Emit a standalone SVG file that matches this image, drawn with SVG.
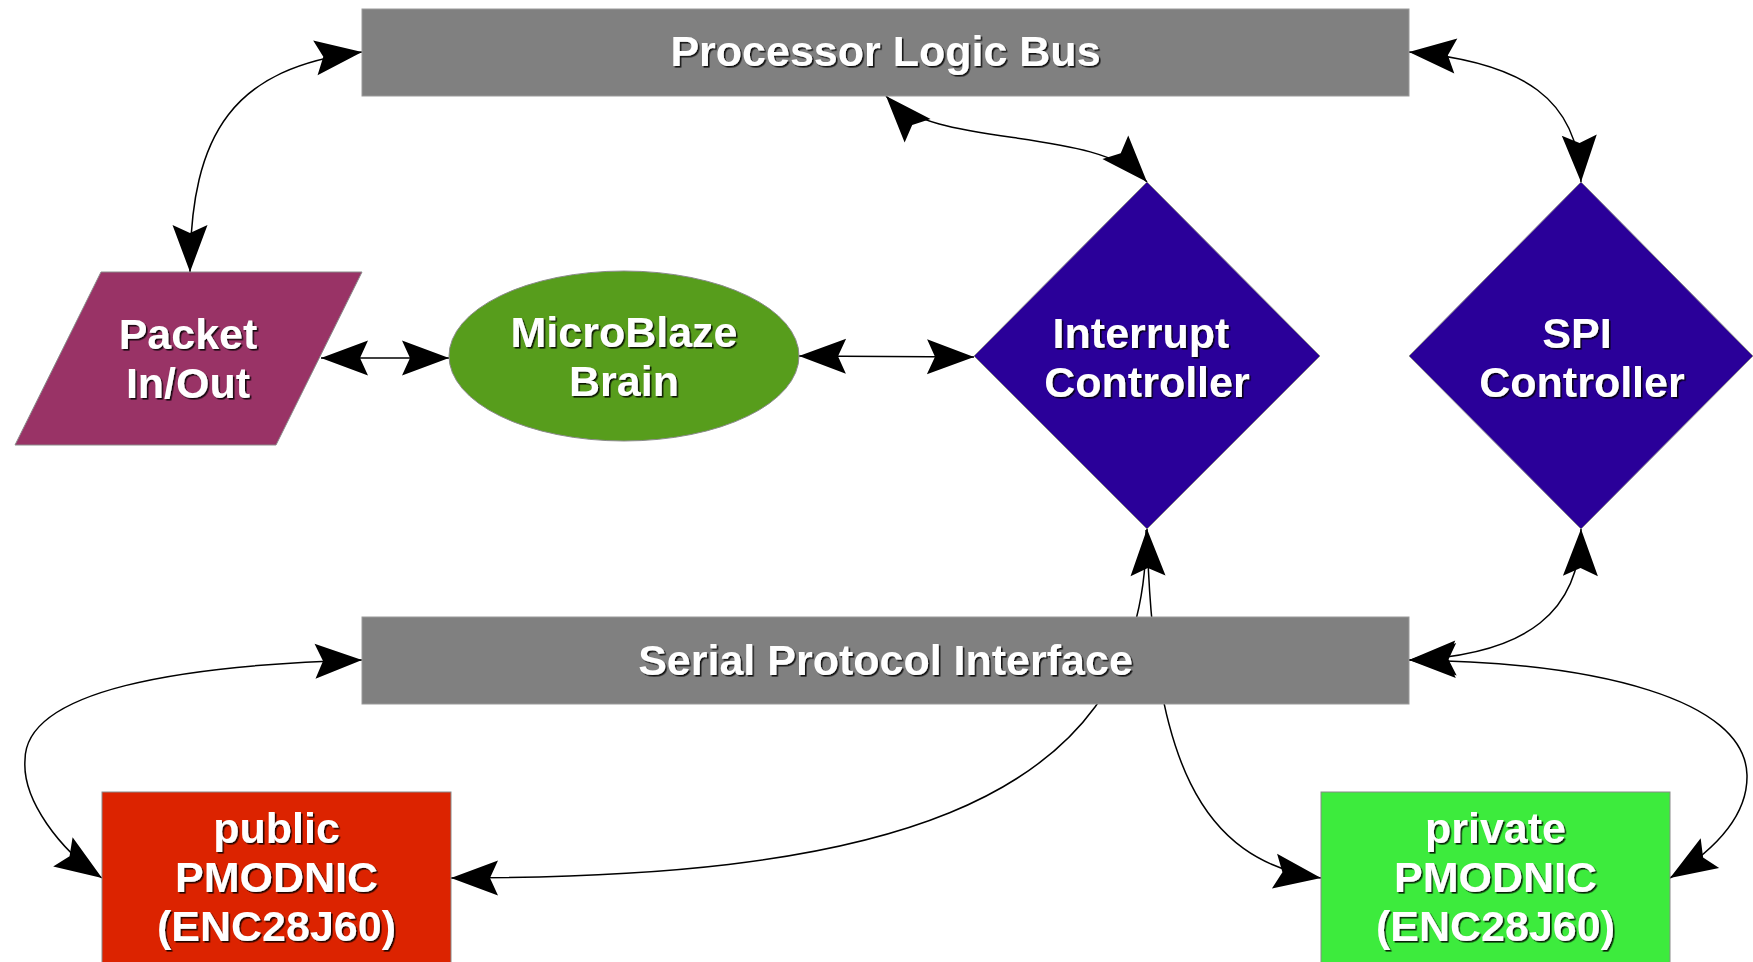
<svg xmlns="http://www.w3.org/2000/svg" width="1753" height="962" viewBox="0 0 1753 962">
<defs>
<style>
.lbl{font-family:"Liberation Sans",Arial,sans-serif;font-weight:bold;font-size:43px;fill:#ffffff;text-anchor:middle;filter:url(#sh)}
.bus{fill:#808080;stroke:#9a9a9a;stroke-width:1}
.edge{fill:none;stroke:#000;stroke-width:1.5}
.both{marker-start:url(#ah);marker-end:url(#ah)}
.end{marker-end:url(#ah)}
.node{stroke:#8a8a8a;stroke-width:1}
</style>
<filter id="sh" x="-5%" y="-20%" width="110%" height="140%">
<feDropShadow dx="1.6" dy="1.6" stdDeviation="0.5" flood-color="#000" flood-opacity="0.85"/>
</filter>
<marker id="ah" viewBox="-48 -19 50 38" refX="0" refY="0" markerWidth="50" markerHeight="38" markerUnits="userSpaceOnUse" orient="auto-start-reverse">
<path d="M0,0 L-47,-17.5 L-39,0 L-47,17.5 Z" fill="#000"/>
</marker>
</defs>
<rect width="1753" height="962" fill="#ffffff"/>
<g id="connectors">
<path class="edge both" d="M362,52 C235,68 190,130 190,272"/>
<path class="edge both" d="M321,358 L449,358"/>
<path class="edge both" d="M799,356 L974,357"/>
<path class="edge both" d="M886,96 C935,150 1095,125 1147,182"/>
<path class="edge both" d="M1409,52 C1525,62 1578,100 1581,182"/>
<path class="edge both" d="M1409,660 C1530,655 1580,610 1581,529"/>
<path class="edge both" d="M1409,660 C1600,662 1745,700 1747,775 C1748,815 1715,850 1670,878"/>
<path class="edge both" d="M362,660 C180,665 25,690 25,760 C22,800 60,850 102,878"/>
<path class="edge end" d="M1146,530 C1150,820 850,878 451,878"/>
<path class="edge both" d="M1147,529 C1152,760 1200,860 1321,878"/>
</g>
<g id="processor-logic-bus">
<rect class="bus" x="362" y="9" width="1047" height="87"/>
<text class="lbl" x="885.5" y="66">Processor Logic Bus</text>
</g>
<g id="serial-protocol-interface">
<rect class="bus" x="362" y="617" width="1047" height="87"/>
<text class="lbl" x="885.5" y="675">Serial Protocol Interface</text>
</g>
<g id="packet-in-out">
<polygon class="node" points="101,272 362,272 276,445 15,445" fill="#993366"/>
<text class="lbl" x="188" y="349">Packet</text>
<text class="lbl" x="188" y="398">In/Out</text>
</g>
<g id="microblaze-brain">
<ellipse class="node" cx="624" cy="356" rx="175" ry="85" fill="#579d1c" stroke="#a0a0a0"/>
<text class="lbl" x="624" y="347">MicroBlaze</text>
<text class="lbl" x="624" y="396">Brain</text>
</g>
<g id="interrupt-controller">
<polygon class="node" points="1147,182 1320,356 1147,529 974,356" fill="#2a0099"/>
<text class="lbl" x="1141" y="348">Interrupt</text>
<text class="lbl" x="1147" y="397">Controller</text>
</g>
<g id="spi-controller">
<polygon class="node" points="1581,182 1753,356 1581,529 1409,356" fill="#2a0099"/>
<text class="lbl" x="1577" y="348">SPI</text>
<text class="lbl" x="1582" y="397">Controller</text>
</g>
<g id="public-pmodnic">
<rect class="node" x="102" y="792" width="349" height="180" fill="#dc2300"/>
<text class="lbl" x="276.5" y="843">public</text>
<text class="lbl" x="276.5" y="892">PMODNIC</text>
<text class="lbl" x="276.5" y="941">(ENC28J60)</text>
</g>
<g id="private-pmodnic">
<rect class="node" x="1321" y="792" width="349" height="180" fill="#3deb3d"/>
<text class="lbl" x="1495.5" y="843">private</text>
<text class="lbl" x="1495.5" y="892">PMODNIC</text>
<text class="lbl" x="1495.5" y="941">(ENC28J60)</text>
</g>
</svg>
